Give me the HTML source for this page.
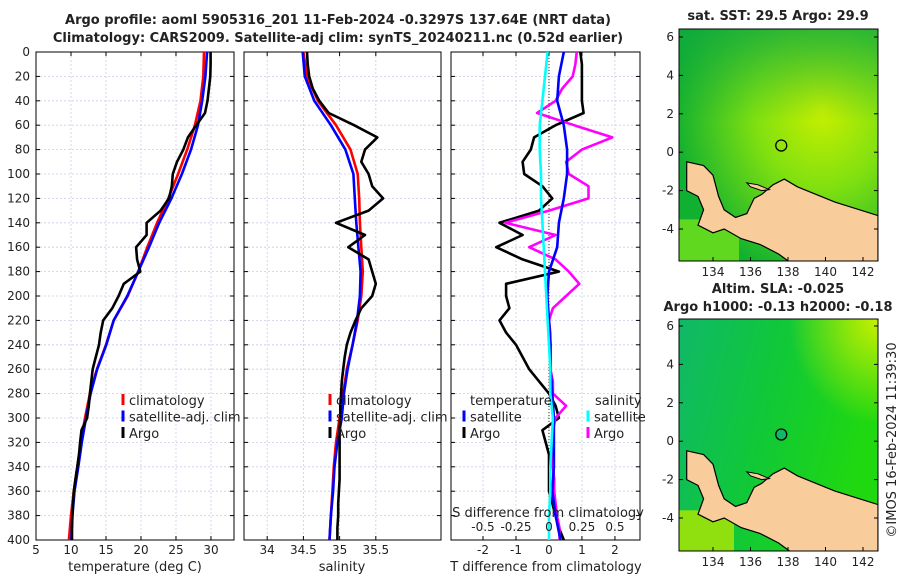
<!DOCTYPE html>
<html><head><meta charset="utf-8"><style>
body{margin:0;background:#fff}
svg text{font-family:"DejaVu Sans","Liberation Sans",sans-serif;fill:#222}
</style></head><body>
<svg id="fig" width="900" height="580" viewBox="0 0 900 580" xmlns="http://www.w3.org/2000/svg">
<text x="338" y="24" text-anchor="middle" font-size="13" font-weight="bold">Argo profile: aoml 5905316_201 11-Feb-2024 -0.3297S 137.64E (NRT data)</text>
<text x="338" y="42" text-anchor="middle" font-size="13" font-weight="bold">Climatology: CARS2009. Satellite-adj clim: synTS_20240211.nc (0.52d earlier)</text>
<g id="layer"></g>
</svg>
<script>
// ---- profile data ----
const climDepth=[0,20,40,60,80,100,120,140,160,180,200,220,240,260,280,300,320,340,360,380,400];
const climT=[29.0,28.9,28.5,27.7,26.6,25.3,23.9,22.3,20.9,19.6,18.1,16.1,15.0,13.7,12.7,12.0,11.4,10.9,10.4,10.0,9.7];
const climS=[34.5,34.55,34.7,34.95,35.15,35.25,35.27,35.28,35.3,35.32,35.3,35.25,35.18,35.1,35.05,35.0,34.95,34.92,34.9,34.88,34.86];
const satTdiff=[0.45,0.3,0.25,0.45,0.55,0.55,0.45,0.3,0.25,0,-0.05,0,0.05,0.05,0.1,0.15,0.15,0.15,0.1,0.2,0.35];
const satSdiff=[-0.01,-0.03,-0.05,-0.07,-0.07,-0.06,-0.06,-0.05,-0.04,-0.03,-0.02,-0.01,0,0.01,0.01,0.03,0.02,0.01,0.01,0,0];
const argoDepth=[0,10,20,30,40,50,60,70,80,90,100,110,120,130,140,150,160,170,180,190,200,210,220,230,240,250,260,270,280,290,300,310,320,330,340,350,360,370,380,390,400];
const argoTdiff=[0.95,1.0,1.0,1.0,1.0,1.05,0.2,-0.45,-0.55,-0.8,-0.75,-0.2,0.1,-0.3,-1.5,-0.8,-1.6,-0.8,0.3,-1.3,-1.3,-1.2,-1.5,-1.3,-1.0,-0.8,-0.6,-0.3,0,0.2,0.3,-0.2,-0.1,0,0,0,0,0.1,0.2,0.3,0.45];
const argoSdiff=[0.21,0.2,0.18,0.1,0.05,-0.09,0.19,0.48,0.25,0.13,0.15,0.3,0.3,0,-0.33,0.05,-0.15,0.05,0.15,0.23,0.13,0.03,0,0.01,0.01,0.01,0.01,0.03,0.03,0.13,0.05,0.03,0.03,0.03,0.03,0.04,0.04,0.05,0.06,0.08,0.08];
const argoS=[34.55,34.56,34.58,34.63,34.72,34.85,35.2,35.52,35.35,35.3,35.4,35.45,35.6,35.4,34.95,35.35,35.12,35.4,35.45,35.5,35.45,35.3,35.22,35.15,35.1,35.07,35.05,35.03,35.02,35.01,35.01,35.0,35.0,35.0,35.0,35.0,34.99,34.98,34.98,34.97,34.97];
const depthTicks=[0,20,40,60,80,100,120,140,160,180,200,220,240,260,280,300,320,340,360,380,400];
const tempTicks=[5,10,15,20,25,30];
const salTicks=[34,34.5,35,35.5];
const tdTicks=[-2,-1,0,1,2];
const sdTicks=[-0.5,-0.25,0,0.25,0.5];
const sdTickLabels=["-0.5","-0.25","0","0.25","0.5"];
// map data (lon, lat)
const coast=[[132.6,-0.5],[133.5,-0.7],[134.0,-1.2],[134.3,-2.3],[134.6,-3.0],[135.2,-3.4],[135.8,-3.2],[136.2,-2.4],[136.6,-2.2],[137.2,-1.7],[137.8,-1.4],[138.5,-1.8],[139.5,-2.2],[140.5,-2.6],[141.5,-2.9],[142.8,-3.3],[142.8,-5.8],[138.2,-5.8],[137.5,-5.3],[136.5,-4.8],[135.5,-4.5],[134.6,-4.0],[134.0,-4.2],[133.2,-3.8],[133.5,-3.0],[133.2,-2.3],[132.6,-2.0]];
const island=[[135.8,-1.6],[136.4,-1.7],[137.0,-1.95],[136.6,-2.0],[136.0,-1.8]];
const argoLon=137.64, argoLat=0.35;
const lonTicks=[134,136,138,140,142];
const latTicks=[6,4,2,0,-2,-4];

const NS="http://www.w3.org/2000/svg";
const L=document.getElementById('layer');
function mk(tag,attrs,parent){const e=document.createElementNS(NS,tag);for(const k in attrs)e.setAttribute(k,attrs[k]);(parent||L).appendChild(e);return e;}
function interp(xs,ys,x){for(let i=0;i<xs.length-1;i++){if(x>=xs[i]&&x<=xs[i+1]){const t=(x-xs[i])/(xs[i+1]-xs[i]);return ys[i]+t*(ys[i+1]-ys[i]);}}return ys[ys.length-1];}
const yD=d=>52+d*(488/400);
const panels=[{x0:36,x1:234,v0:5,v1:33.29},{x0:244,x1:441,v0:33.68,v1:36.4},{x0:451,x1:640,v0:-2.97,v1:2.76}];
function sx(p,v){return p.x0+(v-p.v0)/(p.v1-p.v0)*(p.x1-p.x0);}
const tdScale=v=>sx(panels[2],v), sdScale=v=>sx(panels[2],v*4);

panels.forEach((p,i)=>{
  const g=mk('g',{});
  
  
  mk('rect',{x:p.x0,y:52,width:p.x1-p.x0,height:488,fill:'#fff'},g);
  const ticks=i==0?tempTicks:i==1?salTicks:tdTicks;
  ticks.forEach(t=>{const x=sx(p,t);
    const gl=mk('line',{x1:x,x2:x,y1:52,y2:540,stroke:'#c8cde8','stroke-dasharray':'2,2','stroke-width':0.8},g);
    
    mk('line',{x1:x,x2:x,y1:540,y2:536,stroke:'#000'},g);mk('line',{x1:x,x2:x,y1:52,y2:56,stroke:'#000'},g);
    const tl=mk('text',{x:x,y:554,'text-anchor':'middle','font-size':12},g);tl.textContent=String(t);
    
  });
  depthTicks.forEach(d=>{const y=yD(d);
    const gl=mk('line',{x1:p.x0,x2:p.x1,y1:y,y2:y,stroke:'#c8cde8','stroke-dasharray':'2,2','stroke-width':0.8},g);
    
    mk('line',{x1:p.x0,x2:p.x0+4,y1:y,y2:y,stroke:'#000'},g);mk('line',{x1:p.x1,x2:p.x1-4,y1:y,y2:y,stroke:'#000'},g);
    if(i==0){const tl=mk('text',{x:30,y:y+4,'text-anchor':'end','font-size':12},g);tl.textContent=String(d);
      }
  });
  mk('rect',{x:p.x0,y:52,width:p.x1-p.x0,height:488,fill:'none',stroke:'#000','stroke-width':1},g);
});
function line(xs,ys,color,name,w){
  const pts=xs.map((x,i)=>x.toFixed(1)+','+ys[i].toFixed(1)).join(' ');
  const e=mk('polyline',{points:pts,fill:'none',stroke:color,'stroke-width':w||2.6,'stroke-linejoin':'round'});
  
  
}
const P=panels;
// temperature
line(climDepth.map((d,i)=>sx(P[0],climT[i])),climDepth.map(yD),'#f00','temp-climatology-line');
line(climDepth.map((d,i)=>sx(P[0],climT[i]+satTdiff[i])),climDepth.map(yD),'#00f','temp-satellite-line');
line(argoDepth.map((d,i)=>sx(P[0],interp(climDepth,climT,d)+argoTdiff[i])),argoDepth.map(yD),'#000','temp-argo-line');
// salinity
line(climDepth.map((d,i)=>sx(P[1],climS[i])),climDepth.map(yD),'#f00','salinity-climatology-line');
line(climDepth.map((d,i)=>sx(P[1],climS[i]+satSdiff[i])),climDepth.map(yD),'#00f','salinity-satellite-line');
line(argoDepth.map((d,i)=>sx(P[1],argoS[i])),argoDepth.map(yD),'#000','salinity-argo-line');
// differences
const zl=mk('line',{x1:tdScale(0),x2:tdScale(0),y1:52,y2:540,stroke:'#333','stroke-dasharray':'1,2'});

line(argoDepth.map((d,i)=>tdScale(argoTdiff[i])),argoDepth.map(yD),'#000','temp-diff-argo-line');
line(argoDepth.map((d,i)=>sdScale(argoSdiff[i])),argoDepth.map(yD),'#f0f','sal-diff-argo-line');
line(climDepth.map((d,i)=>tdScale(satTdiff[i])),climDepth.map(yD),'#00f','temp-diff-satellite-line');
line(climDepth.map((d,i)=>sdScale(satSdiff[i])),climDepth.map(yD),'#0ff','sal-diff-satellite-line');
// S diff axis labels
sdTicks.forEach((t,i)=>{const tl=mk('text',{x:sdScale(t),y:531,'text-anchor':'middle','font-size':12});tl.textContent=sdTickLabels[i];
  });
function txt(x,y,s,name,opts){const t=mk('text',Object.assign({x:x,y:y,'font-size':13},opts||{}));t.textContent=s;
  return t;}
txt(548,517,'S difference from climatology','sdiff-axis-title',{'text-anchor':'middle'});
txt(135,571,'temperature (deg C)','temp-axis-title',{'text-anchor':'middle'});
txt(342,571,'salinity','salinity-axis-title',{'text-anchor':'middle'});
txt(546,571,'T difference from climatology','tdiff-axis-title',{'text-anchor':'middle'});
// legends
function leg(x,y,color,label,name){
  const g=mk('g',{});
  mk('rect',{x:x-1.5,y:y-6,width:3,height:11,fill:color},g);
  const t=mk('text',{x:x+6,y:y+5,'font-size':13},g);t.textContent=label;
}
[[123,'climatology','#f00'],[123,'satellite-adj. clim','#00f'],[123,'Argo','#000']].forEach((a,i)=>leg(a[0],400+i*16.5,a[2],a[1],'temp-legend-entry'));
[[330,'climatology','#f00'],[330,'satellite-adj. clim','#00f'],[330,'Argo','#000']].forEach((a,i)=>leg(a[0],400+i*16.5,a[2],a[1],'sal-legend-entry'));
txt(470,405,'temperature','legend-temperature-header');
txt(595,405,'salinity','legend-salinity-header');
leg(464,416.5,'#00f','satellite','tdiff-legend-satellite');
leg(464,433,'#000','Argo','tdiff-legend-argo');
leg(588,416.5,'#0ff','satellite','sdiff-legend-satellite');
leg(588,433,'#f0f','Argo','sdiff-legend-argo');

// ---- maps ----
const maps=[{y0:29,y1:261,lat6:37,title:['sat. SST: 29.5 Argo: 29.9'],ty:[20],kind:1},
            {y0:319,y1:551,lat6:326,title:['Altim. SLA: -0.025','Argo h1000: -0.13 h2000: -0.18'],ty:[293,311],kind:2}];
const defs=mk('defs',{});
defs.innerHTML='<radialGradient id="g1" cx="0.72" cy="0.35" r="0.75"><stop offset="0" stop-color="#c8f000"/><stop offset="0.45" stop-color="#80e010"/><stop offset="1" stop-color="#10b030"/></radialGradient>'+
'<linearGradient id="g1b" x1="0" y1="0" x2="0" y2="1"><stop offset="0" stop-color="#10a840" stop-opacity="0.7"/><stop offset="0.4" stop-color="#10a840" stop-opacity="0"/></linearGradient>'+
'<linearGradient id="g2" x1="0" y1="0" x2="1" y2="0.3"><stop offset="0" stop-color="#10b868"/><stop offset="0.5" stop-color="#10c838"/><stop offset="1" stop-color="#20d810"/></linearGradient>'+
'<radialGradient id="g2b" cx="1" cy="0" r="0.45"><stop offset="0" stop-color="#c8f000"/><stop offset="1" stop-color="#c8f000" stop-opacity="0"/></radialGradient>'+
'<radialGradient id="g2c" cx="0.15" cy="1" r="0.3"><stop offset="0" stop-color="#d0f000"/><stop offset="1" stop-color="#90e010"/></radialGradient>';
maps.forEach((m,mi)=>{
  const X=lon=>713+(lon-134)*18.75, Y=lat=>m.lat6+(6-lat)*19.2;
  const g=mk('g',{});
  const cp=mk('clipPath',{id:'clip'+mi},defs);mk('rect',{x:679,y:m.y0,width:199,height:m.y1-m.y0},cp);
  const inner=mk('g',{'clip-path':'url(#clip'+mi+')'},g);
  if(m.kind==1){mk('rect',{x:679,y:m.y0,width:199,height:m.y1-m.y0,fill:'url(#g1)'},inner);mk('rect',{x:679,y:m.y0,width:199,height:m.y1-m.y0,fill:'url(#g1b)'},inner);
    mk('rect',{x:679,y:Y(-3.5),width:60,height:80,fill:'#60d820'},inner);}
  else{mk('rect',{x:679,y:m.y0,width:199,height:m.y1-m.y0,fill:'url(#g2)'},inner);mk('rect',{x:679,y:m.y0,width:199,height:m.y1-m.y0,fill:'url(#g2b)'},inner);
    mk('rect',{x:679,y:Y(-3.6),width:55,height:80,fill:'url(#g2c)'},inner);}
  const land=mk('polygon',{points:coast.map(c=>X(c[0]).toFixed(1)+','+Y(c[1]).toFixed(1)).join(' '),fill:'#f9cc9c',stroke:'#000','stroke-width':1.2},inner);
  
  mk('polygon',{points:island.map(c=>X(c[0]).toFixed(1)+','+Y(c[1]).toFixed(1)).join(' '),fill:'#f9cc9c',stroke:'#000','stroke-width':1},inner);
  const dot=mk('circle',{cx:X(argoLon),cy:Y(argoLat),r:5.5,fill:mi?'#10b868':'none',stroke:'#000','stroke-width':1.3},g);
  
  mk('rect',{x:679,y:m.y0,width:199,height:m.y1-m.y0,fill:'none',stroke:'#000','stroke-width':1},g);
  lonTicks.forEach(l=>{const x=X(l);mk('line',{x1:x,x2:x,y1:m.y1,y2:m.y1-4,stroke:'#000'},g);
    const t=mk('text',{x:x,y:m.y1+15,'text-anchor':'middle','font-size':12},g);t.textContent=String(l);
    });
  latTicks.forEach(l=>{const y=Y(l);mk('line',{x1:679,x2:683,y1:y,y2:y,stroke:'#000'},g);mk('line',{x1:878,x2:874,y1:y,y2:y,stroke:'#000'},g);
    const t=mk('text',{x:674,y:y+4,'text-anchor':'end','font-size':12},g);t.textContent=String(l);
    });
  m.title.forEach((s,i)=>txt(778,m.ty[i],s,'map-title',{'text-anchor':'middle','font-weight':'bold'}));
});
const cr=txt(0,0,'\u00A9IMOS 16-Feb-2024 11:39:30','timestamp-label',{'text-anchor':'middle','transform':'translate(896,440) rotate(-90)','font-size':13});
</script>
</body></html>
